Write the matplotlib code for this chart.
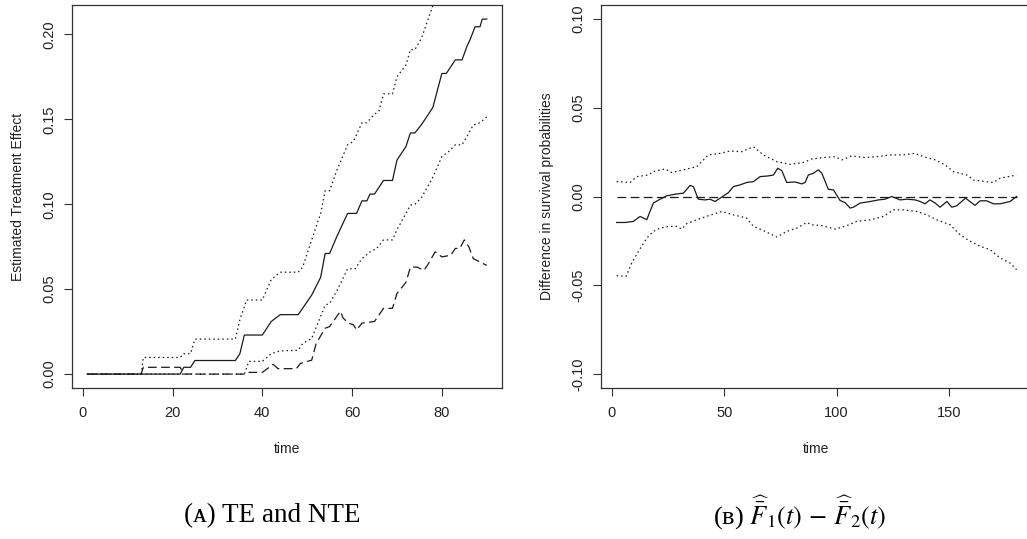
import numpy as np
import matplotlib.pyplot as plt

plt.rcParams['font.family'] = ['Liberation Sans', 'DejaVu Sans']
plt.rcParams['mathtext.fontset'] = 'stix'

# --- (A) TE and NTE: estimate, bounds and NTE ---
te_t = [1, 21.7, 22.5, 24, 25, 34, 35, 36, 40, 42, 44, 48, 51, 53, 54, 55, 56.6, 59, 61, 62.2,
        63.3, 64, 65, 67, 69, 70, 72, 73, 74, 75.5, 78, 80, 81, 82, 83, 84.5, 85.6, 86.3, 87.4,
        88.5, 89, 90]
te_v = [0, 0, 0.004, 0.004, 0.008, 0.008, 0.012, 0.023, 0.023, 0.031, 0.035, 0.035, 0.0465,
        0.057, 0.071, 0.071, 0.081, 0.0946, 0.0946, 0.102, 0.102, 0.106, 0.106, 0.114, 0.114,
        0.126, 0.134, 0.142, 0.142, 0.147, 0.157, 0.177, 0.177, 0.181, 0.185, 0.185, 0.193,
        0.197, 0.2045, 0.2045, 0.209, 0.209]

up_t = [1, 13, 13.5, 21.7, 22.5, 24, 25, 34, 35, 36.5, 40, 42, 44, 48, 49, 51, 53, 54, 55,
        56.6, 59, 60.3, 62.2, 63.3, 64.8, 66, 67, 69, 70, 72, 73, 74, 75.5, 78, 80, 83, 86, 90]
up_v = [0, 0, 0.0098, 0.0098, 0.012, 0.012, 0.0206, 0.0206, 0.032, 0.0436, 0.0436, 0.0557,
        0.060, 0.060, 0.063, 0.079, 0.0946, 0.108, 0.108, 0.120, 0.135, 0.137, 0.148, 0.148,
        0.1525, 0.155, 0.165, 0.165, 0.175, 0.182, 0.191, 0.191, 0.198, 0.217, 0.225, 0.235,
        0.243, 0.255]

lo_t = [1, 22.5, 36, 37, 40, 42, 44, 48, 49, 51, 53, 54, 55, 56.6, 59, 60.7, 62.2, 64, 65.5,
        67, 69, 70, 72, 73, 74, 75.5, 78, 80, 81.5, 83, 84.5, 85.6, 87, 88.5, 90]
lo_v = [0, 0, 0, 0.0075, 0.0075, 0.012, 0.0137, 0.014, 0.018, 0.021, 0.034, 0.0406, 0.0416,
        0.049, 0.062, 0.062, 0.068, 0.072, 0.074, 0.079, 0.079, 0.085, 0.0946, 0.0995, 0.100,
        0.104, 0.116, 0.128, 0.131, 0.135, 0.135, 0.140, 0.1466, 0.148, 0.1515]

nte_t = [1, 13, 13.5, 21.7, 22.5, 36, 37, 40, 42.4, 43.5, 47.6, 48.5, 51, 52, 54, 55, 56.6,
         57.4, 58, 59.2, 60.3, 61, 62.2, 65, 67, 69, 70, 72, 73, 74.5, 76, 77, 78.5, 80, 82,
         83, 84, 85, 86, 87, 88.5, 90]
nte_v = [0, 0, 0.004, 0.004, 0, 0, 0.001, 0.001, 0.0057, 0.0032, 0.0032, 0.0063, 0.0082,
         0.018, 0.027, 0.028, 0.034, 0.037, 0.033, 0.030, 0.029, 0.026, 0.030, 0.031, 0.0387,
         0.0387, 0.0475, 0.054, 0.063, 0.063, 0.061, 0.065, 0.072, 0.069, 0.070, 0.074, 0.074,
         0.079, 0.075, 0.068, 0.066, 0.064]

# --- (B) difference of survival curves ---
d_t = [2.2, 6, 9.6, 12.6, 15.6, 18.5, 21.5, 24.5, 28.2, 31.9, 34.8, 36.3, 38.5, 41.5, 43.7,
       45.9, 48.2, 51.9, 54.1, 57, 60, 63, 66, 69.7, 71.9, 73.8, 75.6, 77.8, 81.5, 84.5, 86,
       87.4, 89.7, 91.9, 93.4, 96.3, 98.6, 101.5, 103.7, 106, 107.5, 110.4, 114.9, 118.6,
       121.5, 124.5, 128.2, 131.2, 134.9, 137.1, 139.3, 141.5, 143.8, 146, 149, 151.2, 153.4,
       157.3, 161.5, 163.8, 166.7, 169.7, 172.7, 177.1, 180]
d_v = [-0.0146, -0.0146, -0.014, -0.0112, -0.013, -0.0037, -0.0015, 0.0004, 0.0013, 0.0019,
       0.0062, 0.0056, -0.0015, -0.0019, -0.0015, -0.0028, -0.0009, 0.0022, 0.0056, 0.0065,
       0.0079, 0.0084, 0.0112, 0.0116, 0.0121, 0.0159, 0.0146, 0.0079, 0.0082, 0.0071, 0.0079,
       0.0121, 0.0131, 0.015, 0.0131, 0.0041, 0.0037, -0.0022, -0.0034, -0.0065, -0.006,
       -0.0037, -0.0028, -0.0019, -0.0015, 0.0, -0.0019, -0.0015, -0.0019, -0.0028, -0.0041,
       -0.0019, -0.0037, -0.006, -0.0028, -0.006, -0.0052, -0.0009, -0.005, -0.0024, -0.0024,
       -0.0041, -0.0041, -0.0028, 0.0]

du_t = [2.2, 8.2, 11.1, 16.3, 18.5, 23.7, 26.7, 31.9, 37.8, 43, 48.2, 52.6, 57.8, 63, 67.4,
        73.4, 79.3, 85.2, 88.9, 94.1, 99.3, 102.3, 106.7, 112.6, 117.8, 123.8, 129.7, 134.9,
        138.6, 143.8, 148.2, 151.9, 157.9, 160.8, 166, 169.7, 172.7, 176.4, 180]
du_v = [0.0084, 0.0079, 0.0112, 0.0121, 0.014, 0.0155, 0.0135, 0.015, 0.0168, 0.0234, 0.0243,
        0.0256, 0.0252, 0.028, 0.0234, 0.0196, 0.0181, 0.0191, 0.0211, 0.0219, 0.0224, 0.0206,
        0.0228, 0.0219, 0.0224, 0.0234, 0.0234, 0.0243, 0.0224, 0.0206, 0.0178, 0.014, 0.0121,
        0.0093, 0.0084, 0.0079, 0.0103, 0.0112, 0.0121]

dl_t = [2.2, 6.4, 8.9, 11.9, 15.6, 18.5, 21.5, 25.2, 28.9, 31.1, 33.3, 37.8, 43, 48.9, 54.1,
        60, 63, 68.2, 73.4, 77.8, 82.3, 86.7, 88.9, 93.4, 99.3, 104.5, 108.9, 114.9, 120.8,
        125.2, 129.7, 135.6, 140.1, 144.5, 150.5, 154.9, 158.7, 163.8, 168.2, 172.7, 177.1, 180]
dl_v = [-0.0445, -0.0449, -0.0374, -0.0308, -0.0234, -0.0196, -0.0178, -0.0168, -0.0168,
        -0.0183, -0.0153, -0.0131, -0.0108, -0.0084, -0.0103, -0.0121, -0.0168, -0.0196,
        -0.0228, -0.0196, -0.0178, -0.0146, -0.0159, -0.0164, -0.0183, -0.0164, -0.014,
        -0.0131, -0.0112, -0.0075, -0.0075, -0.0084, -0.0103, -0.0131, -0.0159, -0.0215,
        -0.0247, -0.028, -0.0299, -0.0346, -0.0374, -0.0411]

zero_t = [2.2, 180]
zero_v = [0, 0]

ticks_a = [0, 20, 40, 60, 80]
yticks_a = [0.00, 0.05, 0.10, 0.15, 0.20]
ticks_b = [0, 50, 100, 150]
yticks_b = [-0.10, -0.05, 0.00, 0.05, 0.10]

ink = '#1a1a1a'
dot = (0, (1.2, 2.4))
dash = (0, (7, 3.5))


def r_axes(ax, xt, yt, ylab):
    # R-like frame: box, outward ticks, rotated y labels
    for s in ax.spines.values():
        s.set_linewidth(0.9)
        s.set_color('#333333')
    ax.set_xticks(xt)
    ax.set_yticks(yt)
    ax.set_yticklabels(['%.2f' % v for v in yt], rotation=90, va='center')
    ax.tick_params(direction='out', length=5.8, width=0.8, color='#333333',
                   labelsize=10.5, labelcolor='#222222')
    ax.tick_params(axis='x', pad=7)
    ax.tick_params(axis='y', pad=5.5)
    ax.set_xlabel('time', fontsize=10, color='#222222', labelpad=16)
    ax.set_ylabel(ylab, fontsize=10, color='#222222', labelpad=12.5)


fig = plt.figure(figsize=(10.27, 5.39), dpi=100)

ax1 = fig.add_axes([0.0701, 0.2801, 0.4187, 0.7106])
ax1.plot(te_t, te_v, color=ink, lw=0.9)
ax1.plot(up_t, up_v, color=ink, lw=0.9, linestyle=dot)
ax1.plot(lo_t, lo_v, color=ink, lw=0.9, linestyle=dot)
ax1.plot(nte_t, nte_v, color=ink, lw=0.9, linestyle=dash)
ax1.set_xlim(-2.4, 93.4)
ax1.set_ylim(-0.0082, 0.2173)
r_axes(ax1, ticks_a, yticks_a, 'Estimated Treatment Effect')

ax2 = fig.add_axes([0.5849, 0.2801, 0.4203, 0.7106])
ax2.plot(d_t, d_v, color=ink, lw=0.9)
ax2.plot(du_t, du_v, color=ink, lw=0.9, linestyle=dot)
ax2.plot(dl_t, dl_v, color=ink, lw=0.9, linestyle=dot)
ax2.plot(zero_t, zero_v, color=ink, lw=0.9, linestyle=dash)
ax2.set_xlim(-4.9, 187)
ax2.set_ylim(-0.1077, 0.1077)
r_axes(ax2, ticks_b, yticks_b, 'Difference in survival probabilities')

# captions under the panels
cap_font = ['Liberation Serif', 'DejaVu Serif']
fig.text(272 / 1027, 1 - 516 / 539, '(\u1d00) TE and NTE', ha='center', va='center',
         fontsize=19.5, family=cap_font)
fig.text(800 / 1027, 1 - 513 / 539,
         '(\u0299) ' + r'$\widehat{\bar{F}}_1(t)\,-\,\widehat{\bar{F}}_2(t)$',
         ha='center', va='center', fontsize=19, family=cap_font)

fig.savefig('out.png', dpi=100)
